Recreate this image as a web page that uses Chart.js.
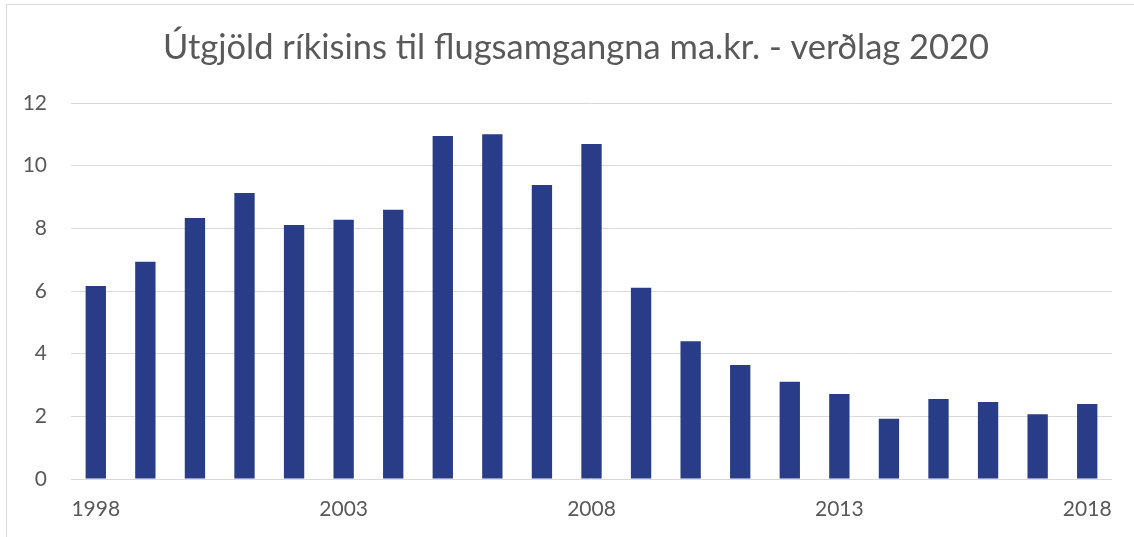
<!DOCTYPE html>
<html>
<head>
<meta charset="utf-8">
<script src="https://cdn.jsdelivr.net/npm/chart.js@4.4.1/dist/chart.umd.min.js"></script>
<style>
  html, body { margin: 0; padding: 0; background: #fff; }
  #wrap { width: 1134px; height: 537px; }
</style>
</head>
<body>
<div id="wrap"><canvas id="grafico" width="1134" height="537"></canvas></div>
<script>
// Útgjöld ríkisins til flugsamgangna, ma.kr. á verðlagi 2020
const ar = ["1998", "1999", "2000", "2001", "2002", "2003", "2004", "2005", "2006", "2007",
  "2008", "2009", "2010", "2011", "2012", "2013", "2014", "2015", "2016", "2017", "2018"];
const utgjold = [6.16, 6.93, 8.33, 9.13, 8.11, 8.27, 8.59, 10.95, 11.0, 9.38,
  10.69, 6.1, 4.4, 3.64, 3.1, 2.71, 1.92, 2.55, 2.46, 2.07, 2.39];
const yTikk = [0, 2, 4, 6, 8, 10, 12];

const grar = "#595959";
const letur = "Lato, 'Open Sans', sans-serif";

// rammi utan um myndina + titill færður aðeins til hægri
const rammi = {
  id: "rammi",
  afterLayout(chart) {
    chart.titleBlock.left = 40;
  },
  beforeDraw(chart) {
    const ctx = chart.ctx;
    ctx.save();
    ctx.fillStyle = "#fff";
    ctx.fillRect(0, 0, chart.width, chart.height);
    ctx.strokeStyle = "#d9d9d9";
    ctx.lineWidth = 1;
    ctx.strokeRect(6.5, 4.5, 1300, 700);
    ctx.restore();
  }
};

new Chart(document.getElementById("grafico"), {
  type: "bar",
  data: {
    labels: ar,
    datasets: [{
      label: "Útgjöld",
      data: utgjold,
      backgroundColor: "#283c87",
      borderWidth: 0,
      categoryPercentage: 1,
      barPercentage: 0.41
    }]
  },
  options: {
    responsive: false,
    animation: false,
    layout: { padding: { left: 0, right: 22, top: 0, bottom: 0 } },
    plugins: {
      legend: { display: false },
      tooltip: { enabled: false },
      title: {
        display: true,
        text: "Útgjöld ríkisins til flugsamgangna ma.kr. - verðlag 2020",
        color: grar,
        font: { family: letur, size: 34.5, weight: "normal", lineHeight: 1.2 },
        padding: { top: 27, bottom: 34.6 }
      }
    },
    scales: {
      x: {
        grid: { display: false, drawTicks: false },
        border: { display: false },
        ticks: {
          color: grar,
          font: { family: letur, size: 21 },
          padding: 18,
          autoSkip: false,
          maxRotation: 0,
          callback: (v, i) => (i % 5 === 0 ? ar[i] : "")
        },
        afterFit: s => { s.height = 58; }
      },
      y: {
        min: 0,
        max: 12,
        afterBuildTicks: s => { s.ticks = yTikk.map(v => ({ value: v })); },
        grid: { color: "#d9d9d9", lineWidth: 1, drawTicks: false },
        border: { display: false },
        ticks: {
          color: grar,
          font: { family: letur, size: 21 },
          padding: 24
        },
        afterFit: s => { s.width = 71; }
      }
    }
  },
  plugins: [rammi]
});
</script>
</body>
</html>
